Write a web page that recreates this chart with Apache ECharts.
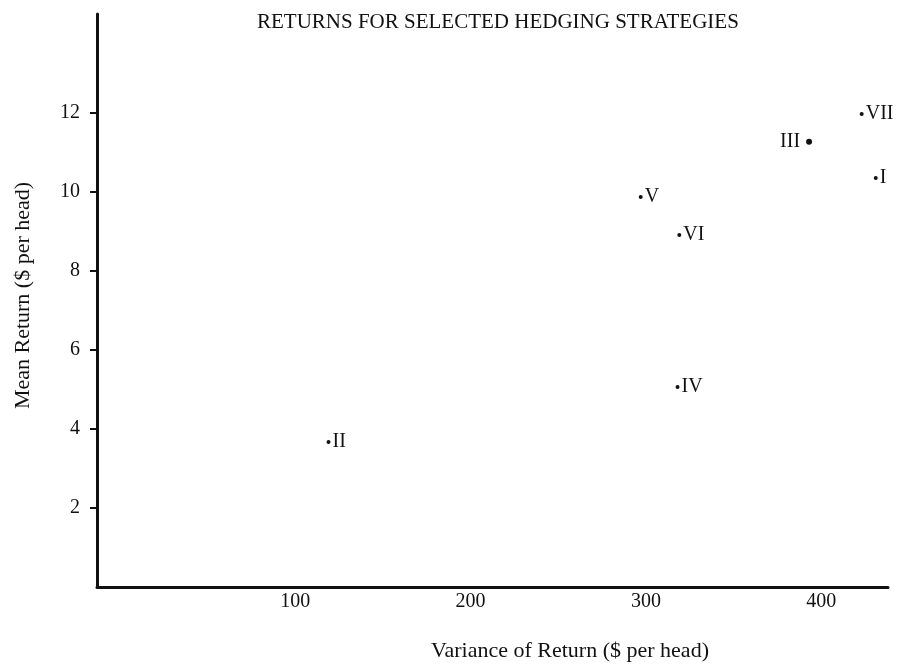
<!DOCTYPE html>
<html>
<head>
<meta charset="utf-8">
<script src="https://cdn.jsdelivr.net/npm/echarts@6/dist/echarts.min.js"></script>
<style>
html,body{margin:0;padding:0;background:#fff;}
#chart{width:897px;height:665px;}
</style>
</head>
<body>
<div id="chart"></div>
<script>
const strategies = ['I', 'II', 'III', 'IV', 'V', 'VI', 'VII'];
const variance = [431, 119, 393, 318, 297, 319, 423];
const meanReturn = [10.35, 3.67, 11.27, 5.06, 9.87, 8.91, 11.97];
const xTicks = [100, 200, 300, 400];
const yTicks = [2, 4, 6, 8, 10, 12];

const FONT = '"Liberation Serif", "DejaVu Serif", serif';
const INK = '#111';

const data = strategies.map((n, i) => ({
  name: n,
  value: [variance[i], meanReturn[i]],
  symbolSize: n === 'III' ? 6 : 4,
  label: { position: n === 'III' ? 'left' : 'right', distance: n === 'III' ? 6 : 2 }
}));

const chart = echarts.init(document.getElementById('chart'), null, { renderer: 'canvas' });
chart.setOption({
  backgroundColor: '#fff',
  animation: false,
  title: {
    text: 'RETURNS FOR SELECTED HEDGING STRATEGIES',
    left: 252, top: 7,
    textStyle: { fontFamily: FONT, fontSize: 21, fontWeight: 'normal', color: INK }
  },
  grid: { left: 97, top: 14, width: 791, bottom: 78, containLabel: false, outerBoundsMode: 'none' },
  xAxis: {
    type: 'value', min: -13, max: 438,
    name: 'Variance of Return ($ per head)',
    nameLocation: 'middle', nameGap: 53,
    nameTextStyle: { fontFamily: FONT, fontSize: 22, color: INK, padding: [0, 0, 0, 155] },
    axisLine: { show: true, onZero: false, lineStyle: { color: INK, width: 3 } },
    axisTick: { show: false },
    splitLine: { show: false },
    axisLabel: { customValues: xTicks, fontFamily: FONT, fontSize: 20, color: INK, margin: 5 }
  },
  yAxis: {
    type: 'value', min: 0, max: 14.5,
    name: 'Mean Return ($ per head)',
    nameLocation: 'middle', nameGap: 63, nameRotate: 90,
    nameTextStyle: { fontFamily: FONT, fontSize: 22, color: INK, padding: [0, 0, 0, 10] },
    axisLine: { show: true, onZero: false, lineStyle: { color: INK, width: 3 } },
    axisTick: { show: true, customValues: yTicks, length: 7, lineStyle: { color: INK, width: 2 } },
    splitLine: { show: false },
    axisLabel: { customValues: yTicks, fontFamily: FONT, fontSize: 20, color: INK, margin: 17 }
  },
  series: [{
    type: 'scatter',
    symbol: 'circle',
    itemStyle: { color: INK, opacity: 1 },
    label: {
      show: true, formatter: '{b}',
      fontFamily: FONT, fontSize: 20, color: INK
    },
    data: data
  }]
});
</script>
</body>
</html>
